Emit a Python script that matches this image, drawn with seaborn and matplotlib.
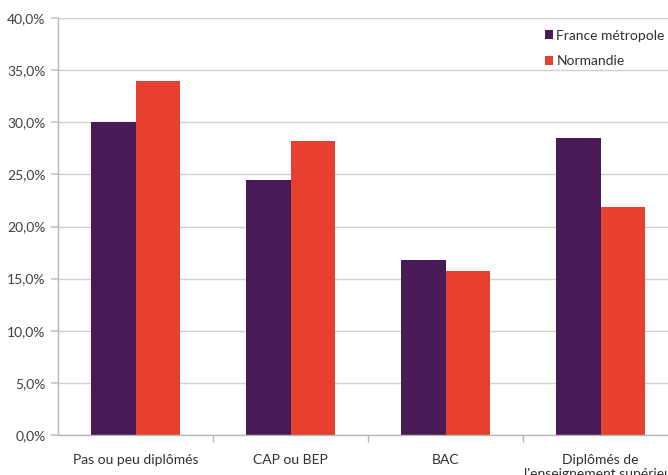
import matplotlib
matplotlib.use("Agg")
import matplotlib.pyplot as plt
import seaborn as sns
import pandas as pd
from matplotlib.ticker import FuncFormatter, FixedLocator

categories = ["Pas ou peu diplômés", "CAP ou BEP", "BAC", "Diplômés de\nl'enseignement supérieur"]
series_names = ["France métropole", "Normandie"]
france = [30.0, 24.5, 16.8, 28.5]
normandie = [34.0, 28.2, 15.7, 21.9]
yticks = [0, 5, 10, 15, 20, 25, 30, 35, 40]

df = pd.DataFrame({
    "cat": categories * 2,
    "serie": [series_names[0]] * 4 + [series_names[1]] * 4,
    "val": france + normandie,
})

sns.set_theme(style="white")
plt.rcParams['font.family'] = ['Lato', 'DejaVu Sans']

fig = plt.figure(figsize=(6.68, 4.75), dpi=100)
ax = fig.add_axes([58/668, 1-435/475, (678-58)/668, (435-18)/475])

palette = {"France métropole": "#4a1a56", "Normandie": "#e8402f"}
sns.barplot(data=df, x="cat", y="val", hue="serie", order=categories,
            hue_order=series_names, palette=palette, width=0.57,
            saturation=1, edgecolor="none", ax=ax, legend=True)

ax.set_ylim(0, 40)
ax.set_xlim(-0.5, 3.5)
ax.set_yticks(yticks)
ax.yaxis.set_major_formatter(FuncFormatter(lambda v, p: f"{v:.1f}%".replace(".", ",")))
ax.grid(axis="y", color="#d0d0d0", linewidth=1)
ax.set_axisbelow(True)
ax.set_xlabel("")
ax.set_ylabel("")

for s in ["top", "right"]:
    ax.spines[s].set_visible(False)
for s in ["left", "bottom"]:
    ax.spines[s].set_color("#b8b8b8")
    ax.spines[s].set_linewidth(1)

ax.tick_params(axis="y", left=True, length=5, color="#c8c8c8", labelsize=10, pad=4, labelcolor="#404040")
ax.tick_params(axis="x", bottom=False, labelsize=10, pad=8, labelcolor="#303030")
ax.xaxis.set_minor_locator(FixedLocator([0.5, 1.5, 2.5]))
ax.tick_params(axis="x", which="minor", bottom=True, length=5, color="#b8b8b8")

h, l = ax.get_legend_handles_labels()
ax.legend_.remove()
fig.legend(h, l, loc="upper left", bbox_to_anchor=(539/668, 1-24/475), frameon=False,
           fontsize=10, handlelength=0.6, handleheight=0.6, handletextpad=0.25,
           labelspacing=1.0, borderaxespad=0, labelcolor="#303030")

fig.savefig("out.png", dpi=100)
